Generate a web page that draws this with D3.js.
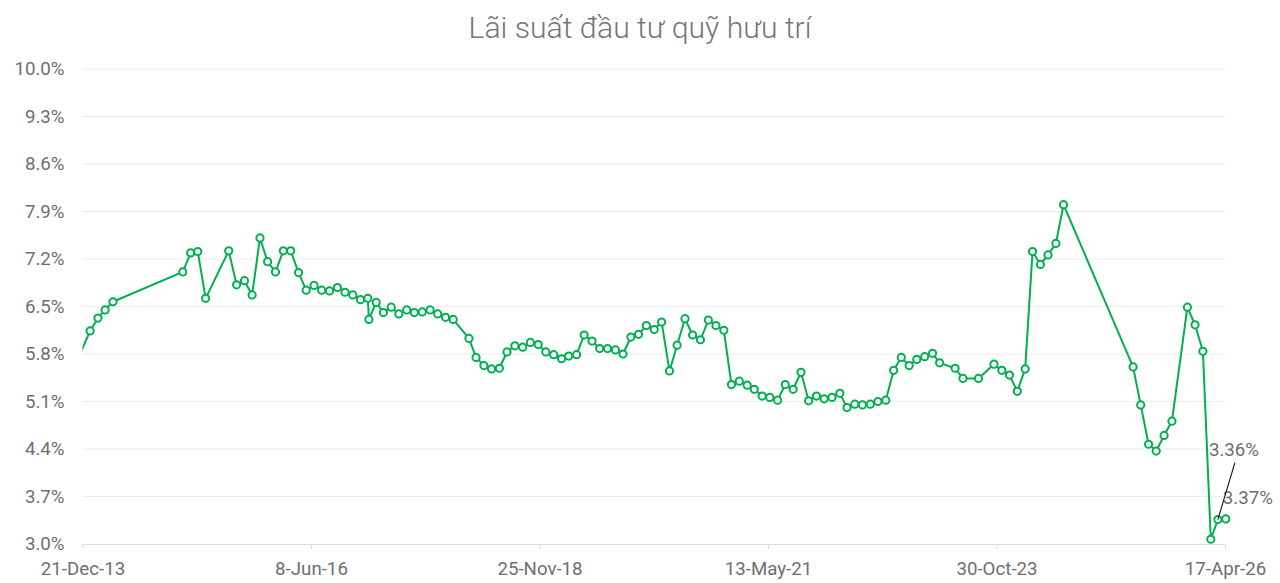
<!DOCTYPE html>
<html>
<head>
<meta charset="utf-8">
<script src="https://cdn.jsdelivr.net/npm/d3@7"></script>
<style>
  html, body { margin: 0; padding: 0; background: #fff; }
  svg { display: block; font-family: Roboto, "Noto Sans", sans-serif; }
</style>
</head>
<body>
<svg id="chart" width="1280" height="583"></svg>
<script>
const chartTitle = "Lãi suất đầu tư quỹ hưu trí";

const dates = [
  "2013-11-20",
  "2014-01-20","2014-02-20","2014-03-20","2014-04-20",
  "2015-01-20","2015-02-20","2015-03-20","2015-04-20","2015-07-20","2015-08-20","2015-09-20","2015-10-20","2015-11-20","2015-12-20",
  "2016-01-20","2016-02-20","2016-03-20","2016-04-20","2016-05-20","2016-06-20","2016-07-20","2016-08-20","2016-09-20","2016-10-20","2016-11-20","2016-12-20",
  "2017-01-18","2017-01-22","2017-02-20","2017-03-20","2017-04-20","2017-05-20","2017-06-20","2017-07-20","2017-08-20","2017-09-20","2017-10-20","2017-11-20","2017-12-20",
  "2018-02-20","2018-03-20","2018-04-20","2018-05-20","2018-06-20","2018-07-20","2018-08-20","2018-09-20","2018-10-20","2018-11-20","2018-12-20",
  "2019-01-20","2019-02-20","2019-03-20","2019-04-20","2019-05-20","2019-06-20","2019-07-20","2019-08-20","2019-09-20","2019-10-20","2019-11-20","2019-12-20",
  "2020-01-20","2020-02-20","2020-03-20","2020-04-20","2020-05-20","2020-06-20","2020-07-20","2020-08-20","2020-09-20","2020-10-20","2020-11-20","2020-12-20",
  "2021-01-20","2021-02-20","2021-03-20","2021-04-20","2021-05-20","2021-06-20","2021-07-20","2021-08-20","2021-09-20","2021-10-20","2021-11-20","2021-12-20",
  "2022-01-20","2022-02-20","2022-03-20","2022-04-20","2022-05-20","2022-06-20","2022-07-20","2022-08-20","2022-09-20","2022-10-20","2022-11-20","2022-12-20",
  "2023-01-20","2023-02-20","2023-03-20","2023-05-20","2023-06-20","2023-08-20","2023-10-20","2023-11-20","2023-12-20",
  "2024-01-20","2024-02-20","2024-03-20","2024-04-20","2024-05-20","2024-06-20","2024-07-20",
  "2025-04-20","2025-05-20","2025-06-20","2025-07-20","2025-08-20","2025-09-20","2025-11-20","2025-12-20",
  "2026-01-20","2026-02-20","2026-03-20","2026-04-20"
];

const rates = [
  5.62,
  6.14,6.33,6.45,6.57,
  7.01,7.29,7.31,6.62,7.32,6.82,6.88,6.67,7.51,7.16,
  7.01,7.32,7.32,7.00,6.74,6.81,6.74,6.73,6.78,6.71,6.67,6.60,
  6.62,6.31,6.56,6.41,6.49,6.39,6.45,6.41,6.42,6.45,6.39,6.34,6.31,
  6.03,5.75,5.63,5.58,5.59,5.83,5.92,5.90,5.97,5.94,5.83,
  5.79,5.73,5.77,5.79,6.08,5.99,5.88,5.88,5.86,5.80,6.05,6.09,
  6.22,6.16,6.27,5.55,5.93,6.32,6.08,6.01,6.30,6.22,6.15,5.35,
  5.40,5.34,5.28,5.18,5.16,5.12,5.35,5.28,5.53,5.11,5.18,5.14,
  5.16,5.22,5.01,5.06,5.05,5.06,5.10,5.12,5.56,5.75,5.63,5.72,
  5.76,5.81,5.67,5.59,5.44,5.44,5.65,5.56,5.49,
  5.25,5.58,7.31,7.12,7.26,7.43,8.00,
  5.61,5.05,4.47,4.37,4.60,4.81,6.49,6.23,
  5.84,3.07,3.36,3.37
];

const yTicks = [3.0, 3.7, 4.4, 5.1, 5.8, 6.5, 7.2, 7.9, 8.6, 9.3, 10.0];
const xTickLabels = ["21-Dec-13", "8-Jun-16", "25-Nov-18", "13-May-21", "30-Oct-23", "17-Apr-26"];
const labelledIndices = [rates.length - 2, rates.length - 1];

(function () {
const parseDate = d3.timeParse("%Y-%m-%d");
const parseTick = d3.timeParse("%d-%b-%y");
const fmtTick = d3.timeFormat("%-d-%b-%y");
const data = dates.map((d, i) => ({ date: parseDate(d), value: rates[i] }));
const xTicks = xTickLabels.map(parseTick);

const svg = d3.select("#chart");
const pL = 82.5, pR = 1225, pT = 69, pB = 544;

const x = d3.scaleTime().domain([xTicks[0], xTicks[xTicks.length - 1]]).range([pL, pR]);
const y = d3.scaleLinear().domain([3.0, 10.0]).range([pB, pT]);

// title
svg.append("text")
  .attr("x", 640).attr("y", 38)
  .attr("text-anchor", "middle")
  .attr("textLength", 343).attr("lengthAdjust", "spacingAndGlyphs")
  .style("font-size", "30px").style("font-weight", 300)
  .style("fill", "#767676")
  .text(chartTitle);

// grid
svg.append("g").selectAll("line").data(yTicks.slice(1)).join("line")
  .attr("x1", pL).attr("x2", pR)
  .attr("y1", d => y(d)).attr("y2", d => y(d))
  .attr("stroke", "#ececec").attr("stroke-width", 1);

// y axis labels
const yAxis = svg.append("g").attr("transform", `translate(${pL},0)`)
  .call(d3.axisLeft(y).tickValues(yTicks).tickSize(0).tickPadding(18)
    .tickFormat(d => d3.format(".1f")(d) + "%"));
yAxis.select(".domain").remove();
yAxis.selectAll("text").style("font-size", "18.7px").style("fill", "#6f6f6f").style("font-family", "Roboto");

// x axis
const xAxis = svg.append("g").attr("transform", `translate(0,${pB})`)
  .call(d3.axisBottom(x).tickValues(xTicks).tickSize(5).tickPadding(13).tickFormat(fmtTick));
xAxis.select(".domain").attr("stroke", "#dcdcdc").attr("d", `M${pL},0.5H${pR}`);
xAxis.selectAll(".tick line").attr("stroke", "#dcdcdc");
xAxis.selectAll("text").style("font-size", "18.7px").style("fill", "#6f6f6f").style("font-family", "Roboto");

// clip
svg.append("clipPath").attr("id", "plotclip")
  .append("rect").attr("x", pL).attr("y", 0).attr("width", pR - pL + 20).attr("height", 583);

// value labels
const lab = labelledIndices.map(i => data[i]);
const labelOffsets = [{ dx: -9, dy: -64 }, { dx: -3, dy: -15 }];
svg.append("g").selectAll("text").data(lab).join("text")
  .attr("x", (d, i) => x(d.date) + labelOffsets[i].dx)
  .attr("y", (d, i) => y(d.value) + labelOffsets[i].dy)
  .style("font-size", "18.7px").style("fill", "#6f6f6f")
  .text(d => d3.format(".2f")(d.value) + "%");

// line
const line = d3.line().x(d => x(d.date)).y(d => y(d.value));
const g = svg.append("g").attr("clip-path", "url(#plotclip)");
g.append("path").datum(data)
  .attr("d", line)
  .attr("fill", "none").attr("stroke", "#00b050").attr("stroke-width", 2).attr("stroke-linejoin", "round");

g.selectAll("circle").data(data).join("circle")
  .attr("cx", d => x(d.date)).attr("cy", d => y(d.value))
  .attr("r", 3.6)
  .attr("fill", "#fff").attr("stroke", "#00b050").attr("stroke-width", 2);

// leader line for first label
const p = lab[0];
svg.append("line")
  .attr("x1", x(p.date)).attr("y1", y(p.value))
  .attr("x2", x(p.date) + 17).attr("y2", y(p.value) - 57)
  .attr("stroke", "#111").attr("stroke-width", 1.1);
})();
</script>
</body>
</html>
